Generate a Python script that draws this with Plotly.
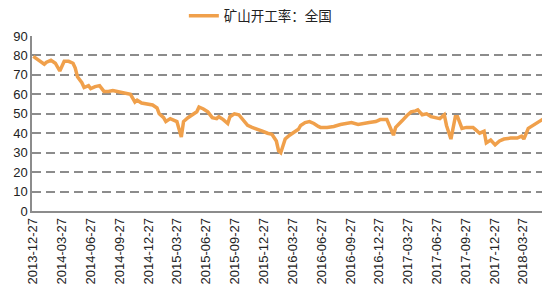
import pandas as pd
import plotly.graph_objects as go

start_date = "2013-12-27"
# week offsets from start date (weekly data) and values
weeks = [0, 2, 5, 6, 8, 10, 11, 12, 14, 16, 18, 19, 20, 22, 23, 25, 26, 28, 30, 32,
         34, 36, 38, 40, 42, 44, 46, 47, 49, 51, 54, 56, 57, 59, 60, 62, 65, 67, 68, 70,
         72, 74, 75, 77, 79, 81, 83, 84, 86, 88, 89, 91, 93, 95, 97, 99, 102, 104, 106, 108,
         110, 111, 112, 114, 116, 118, 120, 121, 123, 125, 127, 129, 130, 133, 136, 139, 141, 144, 147, 149,
         152, 155, 157, 160, 161, 163, 164, 166, 167, 169, 171, 173, 174, 176, 178, 180, 182, 184, 186, 187,
         189, 191, 192, 194, 196, 199, 200, 202, 204, 205, 207, 208, 209, 211, 213, 216, 219, 221, 222, 224,
         226, 228, 231]
values = [79.5, 78, 75.5, 76.5, 77.5, 76, 74, 72, 77, 77, 76, 73.5, 69, 66, 63.5, 64.5, 63, 64, 64.5, 61.5,
          61.5, 62, 61.5, 61, 60.5, 60, 56, 57, 55.5, 55, 54.5, 53, 50, 48, 46, 47.5, 46, 38, 46, 48,
          49.5, 51, 53.5, 52.5, 51, 48, 47.5, 48.5, 47, 45, 48.5, 50, 49.5, 47, 44, 43, 42, 41, 40, 39.5,
          36, 31, 30, 37, 39, 40.5, 42, 44, 45.5, 46, 45, 43.5, 43, 43, 43.5, 44.5, 45, 45.5, 44.5, 45,
          45.5, 46, 47, 47, 44, 39, 43, 45, 46.5, 49, 51, 51.5, 52, 49.5, 50, 48.5, 48, 47.5, 49.5, 44,
          37, 48.5, 48.5, 42.5, 43, 43, 42, 40, 41, 35, 36.5, 35.5, 34, 36, 37, 37.5, 37.5, 38.5, 37, 42.5,
          44, 45.5, 47.5]
tick_dates = ["2013-12-27", "2014-03-27", "2014-06-27", "2014-09-27", "2014-12-27",
              "2015-03-27", "2015-06-27", "2015-09-27", "2015-12-27", "2016-03-27",
              "2016-06-27", "2016-09-27", "2016-12-27", "2017-03-27", "2017-06-27",
              "2017-09-27", "2017-12-27", "2018-03-27"]
series_name = "矿山开工率：全国"

dates = pd.Timestamp(start_date) + pd.to_timedelta([w * 7 for w in weeks], unit="D")

font_family = "Liberation Sans, Noto Sans CJK SC, sans-serif"
grid_color = "#8c8c8c"

fig = go.Figure()
fig.add_trace(go.Scatter(
    x=dates, y=values, mode="lines", name=series_name,
    line=dict(color="#F0A04B", width=3.5),
))

# page body adds an 8px offset, so the figure is 542x292 with margins shifted
fig.update_layout(
    width=542, height=292,
    margin=dict(l=24, r=5, t=28, b=89, autoexpand=False),
    paper_bgcolor="white", plot_bgcolor="white",
    font=dict(family=font_family, size=13, color="#222222"),
    showlegend=True,
    legend=dict(orientation="h", x=0.296, xanchor="left", y=1.115, yanchor="middle",
                itemwidth=30,
                font=dict(size=13.5, color="#222222"), bgcolor="rgba(0,0,0,0)"),
    xaxis=dict(
        type="date",
        range=["2013-12-23", "2018-06-05"],
        tickvals=tick_dates,
        tickformat="%Y-%m-%d",
        tickangle=-90,
        tickfont=dict(size=13),
        showgrid=False, automargin=False,
        showline=True, linecolor=grid_color, linewidth=1.5,
        ticks="", zeroline=False,
    ),
    yaxis=dict(
        range=[0, 90],
        tickvals=list(range(0, 91, 10)),
        tickfont=dict(size=13),
        showgrid=True, gridcolor=grid_color, gridwidth=1.5, griddash="9px,5px",
        showline=True, linecolor=grid_color, linewidth=1.5,
        ticks="", zeroline=False, automargin=False,
    ),
)

fig.write_html("out.html")
